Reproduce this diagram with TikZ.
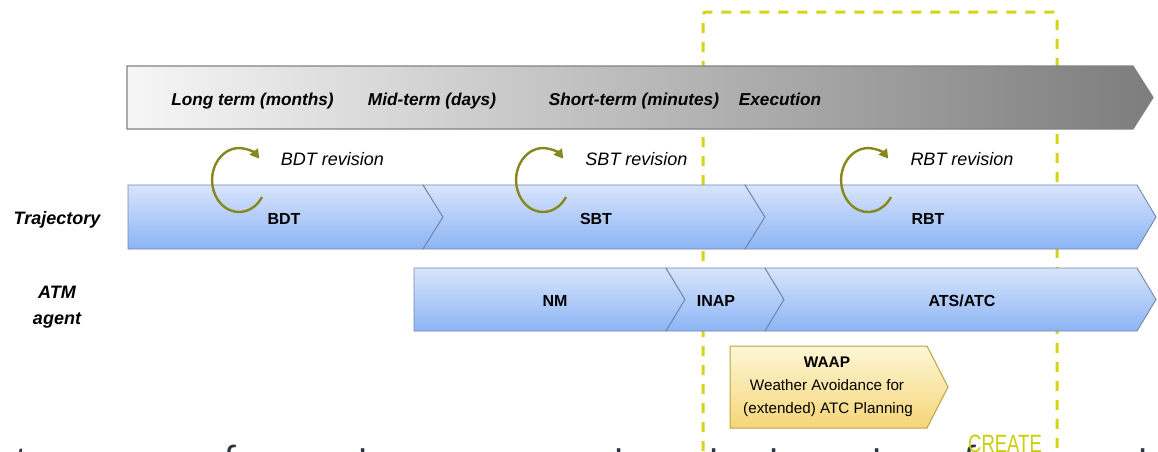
\documentclass[tikz,border=0pt]{standalone}
\usepackage{fontspec}
\setmainfont{Liberation Sans}
\newfontfamily\slidefont{Carlito}
\usetikzlibrary{arrows.meta}

\definecolor{guide}{RGB}{212,212,24}
\definecolor{loopcol}{RGB}{135,135,30}
\definecolor{bluetop}{RGB}{216,229,252}
\definecolor{bluebot}{RGB}{140,180,245}
\definecolor{blueedge}{RGB}{115,135,170}
\definecolor{greyleft}{RGB}{246,246,246}
\definecolor{greyright}{RGB}{125,125,125}
\definecolor{greyedge}{RGB}{130,130,130}
\definecolor{sandtop}{RGB}{253,246,214}
\definecolor{sandbot}{RGB}{245,214,120}
\definecolor{sandedge}{RGB}{185,165,70}
\definecolor{slidetext}{RGB}{44,52,66}
\definecolor{createcol}{RGB}{205,205,10}

\tikzset{
  phase/.style={draw=blueedge, line width=0.9pt, top color=bluetop, bottom color=bluebot},
  timebar/.style={draw=greyedge, line width=1.2pt, left color=greyleft, right color=greyright},
  waapbox/.style={draw=sandedge, line width=1pt, top color=sandtop, bottom color=sandbot},
  guideline/.style={draw=guide, line width=3pt, dash pattern=on 10pt off 9pt, rounded corners=3pt},
  revloop/.style={draw=loopcol, line width=2.4pt, -{Triangle[length=9pt,width=10pt]}},
  hdr/.style={anchor=base, font=\fontsize{17.2}{20}\selectfont\bfseries\itshape},
  revlabel/.style={anchor=base, font=\fontsize{18}{21}\selectfont\itshape},
  rowlabel/.style={anchor=base, font=\fontsize{18}{21}\selectfont\bfseries\itshape},
  phaselabel/.style={anchor=base, font=\fontsize{16}{19}\selectfont\bfseries},
  waaptext/.style={anchor=base, font=\fontsize{15.2}{18}\selectfont},
  slideglyph/.style={anchor=base west, inner sep=0pt, text=slidetext, font=\slidefont\fontsize{40}{48}\selectfont},
}

\begin{document}
\begin{tikzpicture}[x=1pt, y=-1pt]
  \clip (0,0) rectangle (1158,451);
  \fill[white] (0,0) rectangle (1158,451);

  % dashed frame around the execution window
  \draw[guideline] (703,470) -- (703,12) -- (1057,12) -- (1057,470);

  % time axis
  \path[timebar] (127,66) -- (1133,66) -- (1153,97.5) -- (1133,129) -- (127,129) -- cycle;
  \node[hdr] (longterm) at (252.5,105.5) {Long term (months)};
  \node[hdr] (midterm)  at (432,105.5) {Mid-term (days)};
  \node[hdr] (shortterm) at (634,105.5) {Short-term (minutes)};
  \node[hdr] (execution) at (780,105.5) {Execution};

  % trajectory row
  \path[phase] (128,185) -- (423,185) -- (443,217) -- (423,249) -- (128,249) -- cycle;
  \path[phase] (423,185) -- (745,185) -- (765,217) -- (745,249) -- (423,249) -- (443,217) -- cycle;
  \path[phase] (745,185) -- (1137,185) -- (1156,217) -- (1137,249) -- (745,249) -- (765,217) -- cycle;
  \node[phaselabel] (bdt) at (284,224.5) {BDT};
  \node[phaselabel] (sbt) at (596,224.5) {SBT};
  \node[phaselabel] (rbt) at (928,224.5) {RBT};
  \node[rowlabel] (trajectory) at (57,224) {Trajectory};

  % revision loops
  \draw[revloop] (262,197) arc[start angle=-32, end angle=-318, x radius=27pt, y radius=32pt];
  \draw[revloop] (566,197) arc[start angle=-32, end angle=-318, x radius=27pt, y radius=32pt];
  \draw[revloop] (891,197) arc[start angle=-32, end angle=-318, x radius=27pt, y radius=32pt];
  \node[revlabel] (bdtrev) at (332.5,165) {BDT revision};
  \node[revlabel] (sbtrev) at (636.5,165) {SBT revision};
  \node[revlabel] (rbtrev) at (962,165) {RBT revision};

  % ATM agent row
  \path[phase] (414,268) -- (666,268) -- (685,299.5) -- (666,331) -- (414,331) -- cycle;
  \path[phase] (666,268) -- (765,268) -- (784,299.5) -- (765,331) -- (666,331) -- (685,299.5) -- cycle;
  \path[phase] (765,268) -- (1137,268) -- (1156,299.5) -- (1137,331) -- (765,331) -- (784,299.5) -- cycle;
  \node[phaselabel] (nm) at (555,306) {NM};
  \node[phaselabel] (inap) at (716,306) {INAP};
  \node[phaselabel] (atsatc) at (962,306) {ATS/ATC};
  \node[rowlabel] (atm) at (57,298.5) {ATM};
  \node[rowlabel] (agent) at (57,324) {agent};

  % WAAP
  \path[waapbox] (730,346) -- (927,346) -- (948,387) -- (927,428) -- (730,428) -- cycle;
  \node[waaptext, font=\fontsize{15.4}{18}\selectfont\bfseries] (waap) at (827,367.5) {WAAP};
  \node[waaptext] (waapline1) at (827,390.5) {Weather Avoidance for};
  \node[waaptext] (waapline2) at (828,413.5) {(extended) ATC Planning};

  % slide text running below the figure
  \node[slideglyph] (g1) at (15,474) {t};
  \node[slideglyph] (g2) at (224,472) {f};
  \node[slideglyph] (g3) at (358,476) {l};
  \node[slideglyph] (g4) at (614,476) {l};
  \node[slideglyph] (g5) at (709,476) {l};
  \node[slideglyph] (g6) at (769,476) {l};
  \node[slideglyph] (g7) at (872,476) {l};
  \node[slideglyph] (g8) at (964,472) {f};
  \node[slideglyph] (g9) at (1138,476) {l};

  \node[anchor=base, inner sep=0pt, text=createcol, font=\fontsize{25}{28}\selectfont] (create) at (1005,452) {\scalebox{0.74}[1]{CREATE}};
\end{tikzpicture}
\end{document}
